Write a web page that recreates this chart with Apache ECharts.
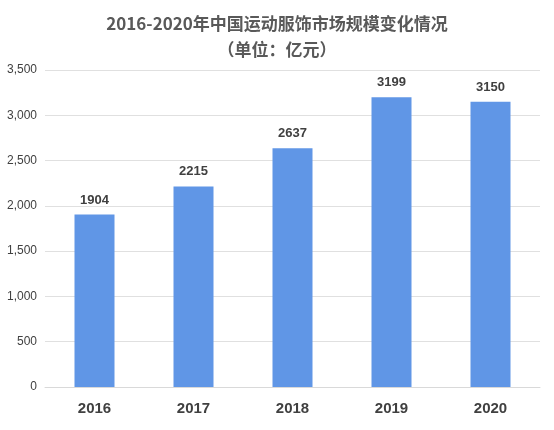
<!DOCTYPE html>
<html><head><meta charset="utf-8">
<script src="https://cdn.jsdelivr.net/npm/echarts@6/dist/echarts.min.js"></script>
<style>html,body{margin:0;padding:0;background:#fff}#c{width:554px;height:430px}</style>
</head><body><div id="c"></div>
<script>
const categories = ['2016','2017','2018','2019','2020'];
const values = [1904, 2215, 2637, 3199, 3150];
const chart = echarts.init(document.getElementById('c'));
chart.setOption({
  animation:false,
  title:{text:'2016-2020年中国运动服饰市场规模变化情况\n（单位：亿元）',left:'center',top:6,
    textStyle:{fontFamily:'Noto Sans CJK SC',fontSize:17,fontWeight:'bold',color:'#595959',lineHeight:26}},
  grid:{left:45,right:14,top:70,bottom:43},
  xAxis:{type:'category',data:categories,axisTick:{show:false},
    axisLine:{lineStyle:{color:'#d9d9d9'}},
    axisLabel:{fontSize:15,fontWeight:'bold',color:'#404040',margin:14,fontFamily:'Liberation Sans'}},
  yAxis:{type:'value',min:0,max:3500,interval:500,
    axisLabel:{fontSize:12,color:'#404040',fontFamily:'Liberation Sans'},
    splitLine:{lineStyle:{color:'#e0e0e0'}}},
  series:[{type:'bar',data:values,barWidth:40,itemStyle:{color:'#6096E6'},
    label:{show:true,position:'top',fontSize:13,fontWeight:'bold',color:'#404040',fontFamily:'Liberation Sans',distance:8}}]
});
</script></body></html>
